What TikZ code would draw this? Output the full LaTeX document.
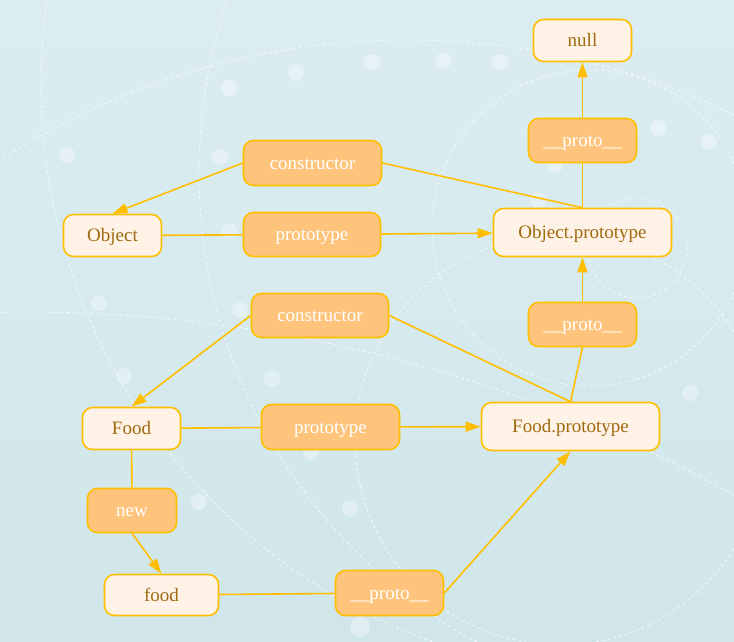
\documentclass[tikz,border=0pt]{standalone}
\usepackage{fontspec}
\setmainfont{Liberation Serif}
\usepackage{tikz}
\usetikzlibrary{arrows.meta}
\definecolor{amber}{HTML}{FFBF00}
\definecolor{cream}{HTML}{FFF3E7}
\definecolor{peach}{HTML}{FFC47C}
\definecolor{txtbrown}{HTML}{A06A10}
\definecolor{bgtop}{HTML}{DBEDF2}
\definecolor{bgbot}{HTML}{D0E6EB}

\tikzset{
  objbox/.style={draw=amber,line width=1.6pt,fill=cream,text=txtbrown,
    rounded corners=10pt,inner sep=0pt,text height=13pt,text depth=1pt},
  keybox/.style={draw=amber,line width=1.6pt,fill=peach,text=white,
    rounded corners=10pt,inner sep=0pt,text height=13pt,text depth=1pt},
  link/.style={amber,line width=1.6pt},
  ring/.style={white,dash pattern=on 3pt off 3pt,line width=0.8pt,opacity=0.75},
  dot/.style={white,opacity=0.35}
}

\begin{document}
\begin{tikzpicture}[x=1pt,y=-1pt,
    every node/.style={font=\rmfamily\fontsize{19}{22}\selectfont},
    >={Triangle[length=15pt,width=10pt]}]
  \useasboundingbox (0,0) rectangle (734,641);
  % background
  \fill[top color=bgtop,bottom color=bgbot] (0,0) rectangle (734,641);
  \begin{scope}
    \clip (0,0) rectangle (734,641);
    \draw[ring] (407,790) circle[radius=750pt];
    \draw[ring] (634,84) circle[radius=593pt];
    \draw[ring] (734,173) circle[radius=535pt];
    \draw[ring] (590,228) circle[radius=158pt];
    \draw[ring] (637,248) circle[radius=50pt];
    \draw[ring] (27,1767) circle[radius=1455pt];
    \draw[ring] (560,440) circle[radius=205pt];
    \foreach \px/\py in {67/155,229/88,296/73,220/157,229/231,99/303,240/310,
        372/62,443/61,500/62,658/128,709/142,555/165,538/200,
        124/376,272/379,199/502,350/509,311/452,690/393}
      \fill[dot] (\px,\py) circle[radius=8pt];
    \fill[dot] (360,627) circle[radius=10pt];
  \end{scope}

  % objects
  \node (nul) at (582.5,40.5) [objbox,minimum width=98pt,minimum height=42pt] {null};
  \node (obj) at (112.5,235.5) [objbox,minimum width=98pt,minimum height=42pt] {Object};
  \node (objproto) at (582.5,232.5) [objbox,minimum width=178pt,minimum height=48pt] {Object.prototype};
  \node (cls) at (131.5,428.5) [objbox,minimum width=98pt,minimum height=42pt] {Food};
  \node (foodproto) at (570.5,426.5) [objbox,minimum width=178pt,minimum height=48pt] {Food.prototype};
  \node (inst) at (161.5,595) [objbox,minimum width=114pt,minimum height=41pt] {food};

  % keys
  \node (protoA) at (582.5,140.5) [keybox,minimum width=108pt,minimum height=44pt] {\_\_proto\_\_};
  \node (ctorA) at (312.5,163) [keybox,minimum width=138pt,minimum height=45pt] {constructor};
  \node (protA) at (312,234.5) [keybox,minimum width=137pt,minimum height=44pt] {prototype};
  \node (ctorB) at (320,315.5) [keybox,minimum width=137pt,minimum height=44pt] {constructor};
  \node (protoB) at (582.5,324.5) [keybox,minimum width=108pt,minimum height=44pt] {\_\_proto\_\_};
  \node (protB) at (330.5,427) [keybox,minimum width=138pt,minimum height=45pt] {prototype};
  \node (newk) at (132,510.5) [keybox,minimum width=89pt,minimum height=44pt] {new};
  \node (protoC) at (389.5,593) [keybox,minimum width=108pt,minimum height=45pt] {\_\_proto\_\_};

  % links
  \draw[link,->] (protoA) to (nul);
  \draw[link] (objproto.north) to (protoA);
  \draw[link,->] (ctorA.west) to (obj.north);
  \draw[link] (objproto.north) to (ctorA.east);
  \draw[link] (obj) to (protA);
  \draw[link,->] (protA) to (objproto);
  \draw[link] (foodproto.north) to (protoB.south);
  \draw[link,->] (protoB) to (objproto);
  \draw[link,->] (ctorB.west) to (cls.north);
  \draw[link] (foodproto.north) to (ctorB.east);
  \draw[link] (cls) to (protB);
  \draw[link,->] (protB) to (foodproto);
  \draw[link] (cls) to (newk);
  \draw[link,->] (newk.south) to (inst.north);
  \draw[link] (inst) to (protoC);
  \draw[link,->] (protoC.east) to (foodproto.south);
\end{tikzpicture}
\end{document}
